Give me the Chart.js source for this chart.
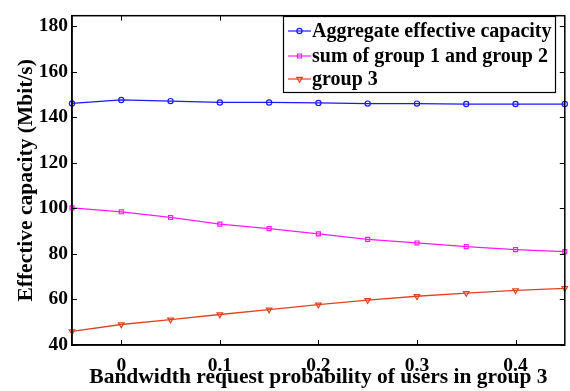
<!DOCTYPE html>
<html>
<head>
<meta charset="utf-8">
<script src="https://cdn.jsdelivr.net/npm/chart.js@4/dist/chart.umd.min.js"></script>
<style>
  html, body { margin: 0; padding: 0; background: #fff; }
  #wrap { width: 570px; height: 391px; }
</style>
</head>
<body>
<div id="wrap"><canvas id="c" width="570" height="391"></canvas></div>
<script>
// Bandwidth request probability of users in group 3
const probabilities = [-0.05, 0, 0.05, 0.1, 0.15, 0.2, 0.25, 0.3, 0.35, 0.4, 0.45];
// Effective capacity (Mbit/s)
const aggregateCapacity = [146.1, 147.6, 147.1, 146.5, 146.5, 146.3, 146.0, 146.0, 145.8, 145.8, 145.8];
const group12Capacity   = [100.2, 98.5, 96.0, 93.1, 91.1, 88.8, 86.4, 84.8, 83.2, 81.9, 81.0];
const group3Capacity    = [46.0, 49.0, 51.1, 53.4, 55.5, 57.7, 59.7, 61.4, 62.8, 64.0, 64.9];
const xTicks = [0, 0.1, 0.2, 0.3, 0.4];
const yTicks = [40, 60, 80, 100, 120, 140, 160, 180];
const seriesNames = ['Aggregate effective capacity', 'sum of group 1 and group 2', 'group 3'];

const FONT = '"Liberation Serif", "Times New Roman", serif';
const BLUE = '#1a1aff';
const MAGENTA = '#ff1aff';
const RED = '#e2431f';

const toXY = (ys) => ys.map((y, i) => ({ x: probabilities[i], y }));

// Inward tick marks on all four sides, plus the top and right frame lines
const boxTicks = {
  id: 'boxTicks',
  afterDatasetsDraw(chart) {
    const { ctx, chartArea: a, scales: { x, y } } = chart;
    const len = 5;
    ctx.save();
    ctx.strokeStyle = '#000';
    ctx.lineWidth = 1;
    ctx.beginPath();
    xTicks.forEach(v => {
      const px = Math.round(x.getPixelForValue(v)) + 0.5;
      ctx.moveTo(px, a.bottom); ctx.lineTo(px, a.bottom - len);
      ctx.moveTo(px, a.top); ctx.lineTo(px, a.top + len);
    });
    yTicks.forEach(v => {
      const py = Math.round(y.getPixelForValue(v)) + 0.5;
      ctx.moveTo(a.left, py); ctx.lineTo(a.left + len, py);
      ctx.moveTo(a.right, py); ctx.lineTo(a.right - len, py);
    });
    ctx.stroke();
    ctx.lineWidth = 1.5;
    ctx.strokeRect(a.left, a.top, a.right - a.left, a.bottom - a.top);
    ctx.restore();
  }
};

// Boxed legend in the upper right corner of the plot
const boxLegend = {
  id: 'boxLegend',
  afterDraw(chart) {
    const { ctx } = chart;
    const bx = 283, by = 16, bw = 272, bh = 76;
    ctx.save();
    ctx.fillStyle = '#fff';
    ctx.fillRect(bx, by, bw, bh);
    ctx.strokeStyle = '#000';
    ctx.lineWidth = 1.2;
    ctx.strokeRect(bx + 0.5, by + 0.5, bw, bh);
    const rows = [31, 56, 79];
    chart.data.datasets.forEach((ds, i) => {
      const cy = rows[i];
      ctx.strokeStyle = ds.borderColor;
      ctx.lineWidth = 1.2;
      ctx.beginPath();
      ctx.moveTo(288, cy); ctx.lineTo(311, cy);
      ctx.stroke();
      ctx.fillStyle = 'rgba(0,0,0,0)';
      ctx.strokeStyle = ds.borderColor;
      Chart.helpers.drawPoint(ctx, {
        pointStyle: ds.pointStyle,
        rotation: ds.pointRotation || 0,
        radius: ds.pointRadius,
        borderWidth: 1.2
      }, 299.5, cy);
      ctx.fillStyle = '#000';
      ctx.font = 'bold 20px ' + FONT;
      ctx.textBaseline = 'middle';
      ctx.fillText(ds.label, 312, cy + 1);
    });
    ctx.restore();
  }
};

const mk = (label, data, color, style, rot, r) => ({
  label, data: toXY(data),
  borderColor: color, backgroundColor: 'rgba(0,0,0,0)',
  borderWidth: 1.3, pointStyle: style, pointRotation: rot,
  pointRadius: r, pointBorderWidth: 1.2, pointBorderColor: color,
  pointBackgroundColor: 'rgba(0,0,0,0)', tension: 0, clip: false
});

new Chart(document.getElementById('c'), {
  type: 'line',
  data: {
    datasets: [
      mk(seriesNames[0], aggregateCapacity, BLUE, 'circle', 0, 2.6),
      mk(seriesNames[1], group12Capacity, MAGENTA, 'rect', 0, 2.8),
      mk(seriesNames[2], group3Capacity, RED, 'triangle', 180, 3.2)
    ]
  },
  options: {
    responsive: false,
    animation: false,
    devicePixelRatio: 1,
    layout: { padding: { top: 9, right: 3, left: 0, bottom: 0 } },
    plugins: { legend: { display: false }, tooltip: { enabled: false } },
    scales: {
      x: {
        type: 'linear', min: -0.05, max: 0.45,
        afterBuildTicks: s => { s.ticks = xTicks.map(v => ({ value: v })); },
        afterFit: s => { s.height = 46; },
        grid: { display: false, drawTicks: false },
        border: { display: true, color: '#000', width: 1.5 },
        ticks: {
          color: '#000', padding: 9, maxRotation: 0,
          font: { family: FONT, size: 19.5, weight: 'bold' },
          callback: v => String(v)
        },
        title: {
          display: true, text: 'Bandwidth request probability of users in group 3',
          color: '#000', padding: { top: 0, bottom: 1 },
          font: { family: FONT, size: 21.5, weight: 'bold' }
        }
      },
      y: {
        type: 'linear', min: 40, max: 184.6,
        afterBuildTicks: s => { s.ticks = yTicks.map(v => ({ value: v })); },
        afterFit: s => { s.width = 72; },
        grid: { display: false, drawTicks: false },
        border: { display: true, color: '#000', width: 1.5 },
        ticks: {
          color: '#000', padding: 4,
          font: { family: FONT, size: 19.5, weight: 'bold' }
        },
        title: {
          display: true, text: 'Effective capacity (Mbit/s)',
          color: '#000', padding: { top: 14, bottom: 0 },
          font: { family: FONT, size: 21.5, weight: 'bold' }
        }
      }
    }
  },
  plugins: [boxTicks, boxLegend]
});
</script>
</body>
</html>
